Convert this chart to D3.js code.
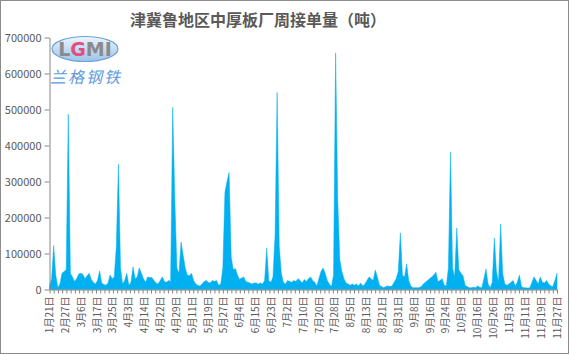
<!DOCTYPE html>
<html><head><meta charset="utf-8">
<script src="https://cdn.jsdelivr.net/npm/d3@7"></script>
<style>body{margin:0;background:#fff}</style></head>
<body><svg id="c" width="570" height="355"></svg>
<script>
const chartTitle = "津冀鲁地区中厚板厂周接单量（吨）";
const dateLabels = ["1月21日","2月27日","3月6日","3月17日","3月25日","4月3日","4月14日","4月22日","4月29日","5月11日","5月19日","5月27日","6月4日","6月15日","6月23日","7月2日","7月10日","7月20日","7月28日","8月5日","8月13日","8月21日","8月31日","9月8日","9月16日","9月24日","10月9日","10月16日","10月26日","11月3日","11月11日","11月19日","11月27日"];
const yTickValues = [0,100000,200000,300000,400000,500000,600000,700000];
const weeklyOrders = [
10000,30000,122000,40000,5000,15000,45000,50000,55000,487000,
45000,35000,22000,30000,43000,45000,42000,30000,38000,45000,
28000,20000,15000,25000,52000,18000,14000,12000,18000,40000,
30000,35000,120000,348000,60000,15000,25000,45000,12000,20000,
63000,30000,35000,60000,45000,30000,20000,35000,33000,33000,
25000,18000,15000,25000,35000,22000,20000,25000,22000,506000,
250000,60000,45000,132000,95000,60000,40000,38000,45000,25000,
15000,12000,10000,15000,22000,25000,20000,18000,25000,22000,
25000,12000,15000,60000,270000,300000,325000,90000,55000,58000,
40000,28000,32000,35000,22000,20000,18000,15000,18000,18000,
15000,18000,15000,25000,115000,25000,20000,35000,150000,547000,
120000,45000,20000,15000,25000,22000,20000,25000,22000,30000,
25000,18000,28000,22000,30000,35000,25000,20000,10000,30000,
50000,60000,45000,25000,15000,8000,40000,657000,250000,82000,
50000,30000,18000,15000,12000,15000,12000,15000,10000,18000,
10000,15000,25000,35000,30000,25000,54000,35000,12000,8000,
5000,8000,10000,8000,10000,20000,30000,50000,157000,40000,
35000,71000,25000,10000,5000,5000,5000,5000,8000,15000,
20000,25000,30000,35000,40000,48000,22000,25000,30000,12000,
10000,60000,381000,60000,35000,171000,55000,45000,38000,12000,
8000,5000,5000,6000,5000,10000,6000,5000,30000,57000,
15000,5000,20000,143000,50000,20000,182000,45000,15000,12000,
15000,20000,25000,10000,20000,40000,8000,5000,5000,4000,
5000,20000,35000,25000,15000,35000,20000,18000,25000,15000,
10000,8000,25000,45000];

const svg = d3.select("#c");
const font = "'Noto Sans CJK SC','Noto Sans',sans-serif";
const textColor = "#595959";
const axisColor = "#868686";
const m = {left:49.5, right:557, top:37.5, bottom:289.5};

svg.append("rect").attr("x",0.5).attr("y",0.5).attr("width",568).attr("height",353)
  .attr("fill","#fff").attr("stroke","#8c8c8c");

const N = weeklyOrders.length;
const x = d3.scaleLinear().domain([0, N-1]).range([m.left, m.right]);
const y = d3.scaleLinear().domain([0, 700000]).range([m.bottom, m.top]);

// area
const area = d3.area().x((d,i)=>x(i)).y0(y(0)).y1(d=>y(d));
svg.append("path").datum(weeklyOrders).attr("d", area)
  .attr("fill","#00B0F0").attr("stroke","#00B0F0").attr("stroke-width",0.5);

// y axis
const yAxis = d3.axisLeft(y).tickValues(yTickValues).tickSize(5).tickSizeOuter(0).tickPadding(3)
  .tickFormat(d3.format("d"));
const gy = svg.append("g").attr("transform",`translate(${m.left},0)`).call(yAxis);
gy.select(".domain").attr("stroke",axisColor);
gy.selectAll(".tick line").attr("stroke",axisColor);
gy.selectAll("text").attr("fill",textColor).attr("font-size",11).attr("font-family",font);

// x axis tick marks
const tickIdx = d3.range(121).map(k => k*(N-1)/120);
const xAxis = d3.axisBottom(x).tickValues(tickIdx).tickSize(4).tickSizeOuter(0).tickFormat("");
const gx = svg.append("g").attr("transform",`translate(0,${m.bottom})`).call(xAxis);
gx.select(".domain").attr("stroke",axisColor);
gx.selectAll(".tick line").attr("stroke",axisColor);

// x labels
const lblPos = dateLabels.map((d,k)=>k*(N-1)/(dateLabels.length-1));
svg.append("g").selectAll("text").data(dateLabels).join("text")
  .attr("transform",(d,k)=>`translate(${x(lblPos[k])},${m.bottom+7}) rotate(-90)`)
  .attr("text-anchor","end").attr("dy","0.35em")
  .attr("font-size",10).attr("font-family",font).attr("fill",textColor)
  .text(d=>d);

// title
svg.append("text").attr("x",258).attr("y",26).attr("text-anchor","middle")
  .attr("font-size",16).attr("font-weight","bold").attr("font-family",font)
  .attr("fill",textColor).text(chartTitle);

// logo
const defs = svg.append("defs");
const lg = defs.append("linearGradient").attr("id","lg").attr("x1",0).attr("y1",0).attr("x2",0).attr("y2",1);
lg.append("stop").attr("offset","0%").attr("stop-color","#eef5fc");
lg.append("stop").attr("offset","100%").attr("stop-color","#9cc3ea");
const logo = svg.append("g");
logo.append("ellipse").attr("cx",85).attr("cy",49).attr("rx",33).attr("ry",12.5)
  .attr("fill","url(#lg)").attr("stroke","#6aa3dc").attr("stroke-width",1.2);
const lt = logo.append("text").attr("x",85).attr("y",56).attr("text-anchor","middle")
  .attr("font-size",19).attr("font-family","'DejaVu Sans',sans-serif").attr("font-weight","bold");
lt.append("tspan").attr("fill","#8a8a8a").text("L");
lt.append("tspan").attr("fill","#e0507f").text("G");
lt.append("tspan").attr("fill","#8a8a8a").text("MI");
logo.append("text").attr("x",86).attr("y",83).attr("text-anchor","middle")
  .attr("font-size",16).attr("font-style","italic").attr("letter-spacing",2)
  .attr("font-family",font).attr("fill","#5d9ae0").text("兰格钢铁");
</script></body></html>
